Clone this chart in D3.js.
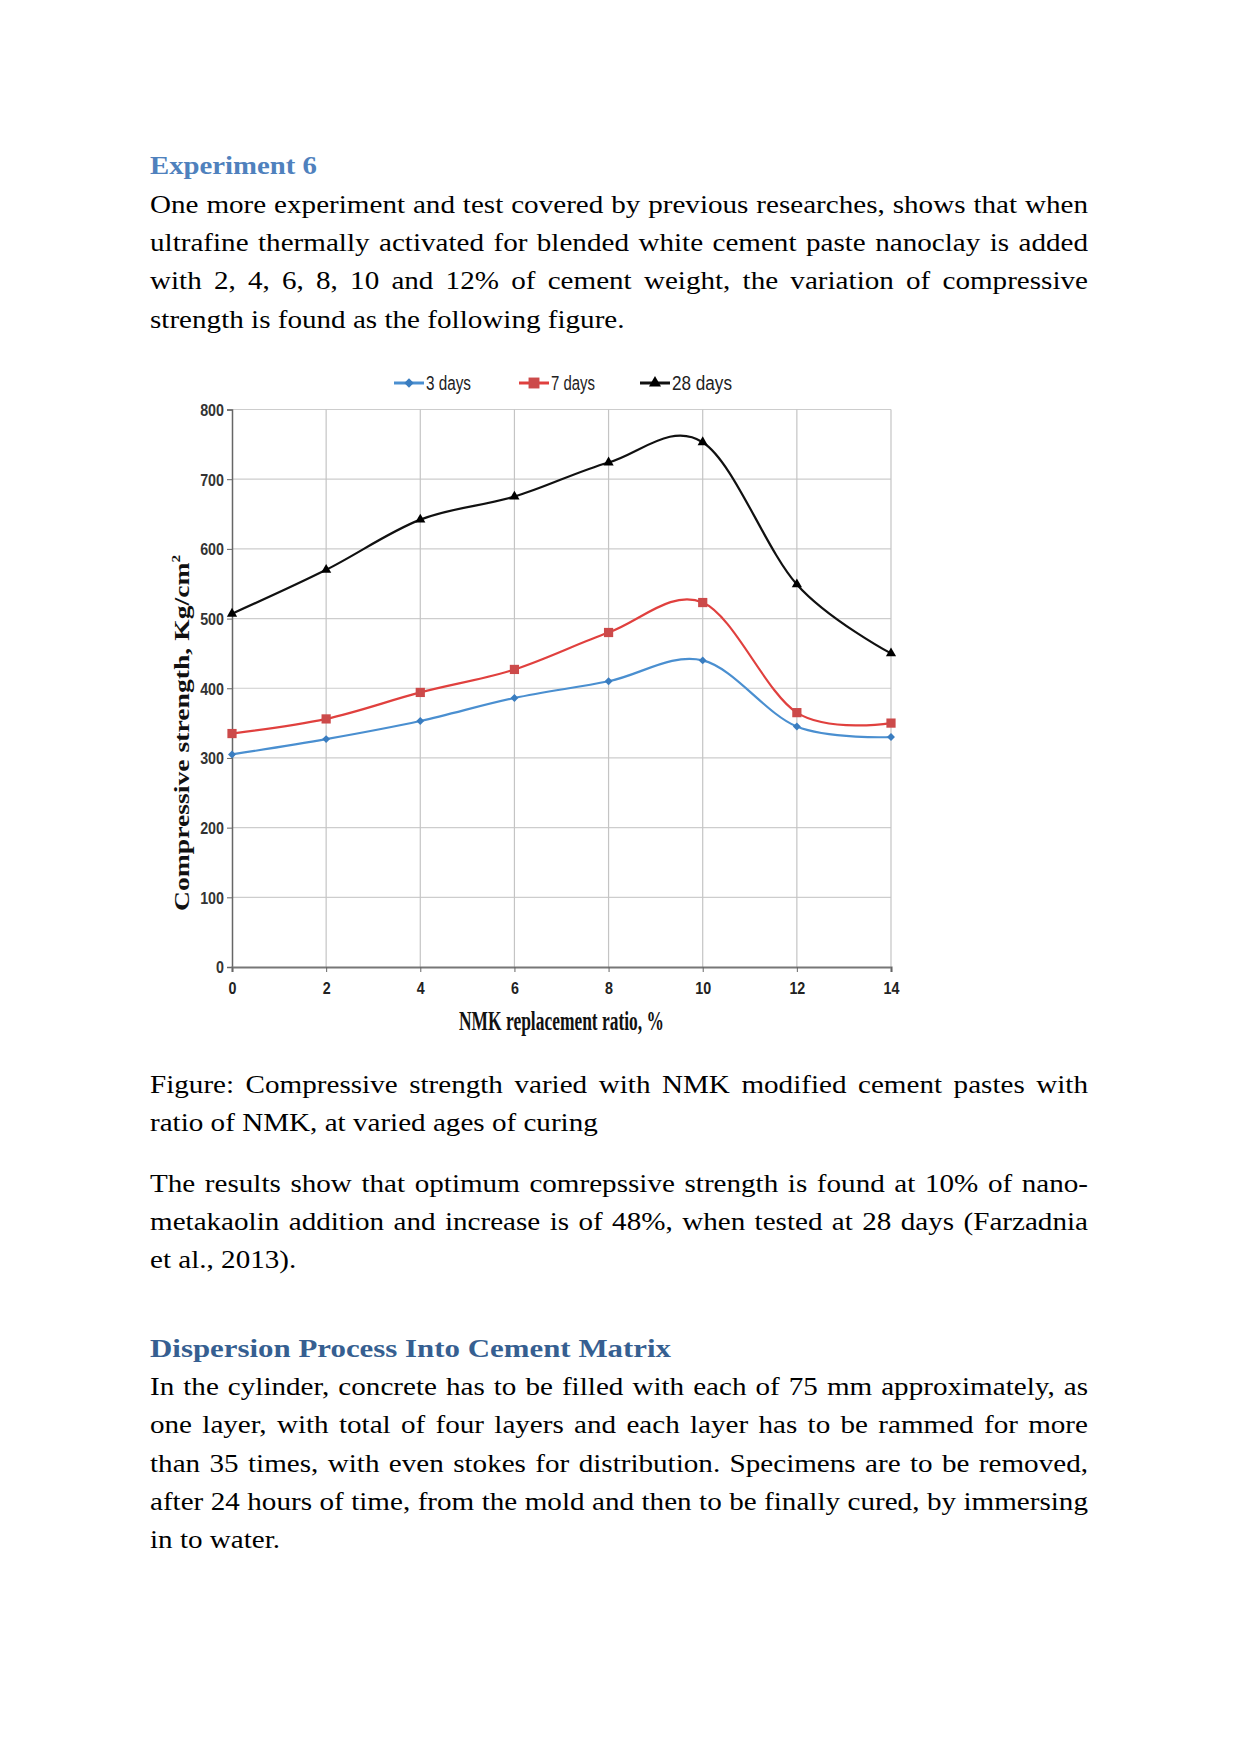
<!DOCTYPE html>
<html>
<head>
<meta charset="utf-8">
<script src="https://cdn.jsdelivr.net/npm/d3@7"></script>
<style>
  html, body { margin: 0; padding: 0; background: #fff; }
  svg { display: block; }
  .body { font-family: "Liberation Serif", "Times New Roman", serif; font-size: 26px; fill: #000; }
  .head { font-family: "Liberation Serif", "Times New Roman", serif; font-size: 26px; font-weight: bold; }
  .fig { font-family: "Liberation Sans Narrow", "Arial Narrow", "Liberation Sans", Arial, sans-serif; }
</style>
</head>
<body>
<script>
// ---------- chart data ----------
const ratios = [0, 2, 4, 6, 8, 10, 12, 14];
const days3  = [305, 327, 353, 386, 410, 440, 345, 330];
const days7  = [335, 356, 394, 427, 480, 523, 365, 350];
const days28 = [507, 570, 642, 675, 724, 753, 549, 450];
const seriesNames = ["3 days", "7 days", "28 days"];
const xTicks = [0, 2, 4, 6, 8, 10, 12, 14];
const yTicks = [0, 100, 200, 300, 400, 500, 600, 700, 800];
const xTitle = "NMK replacement ratio, %";
const yTitle = "Compressive strength, Kg/cm";

// ---------- page text ----------
const heading1 = "Experiment 6";
const para1 = [
  "One more experiment and test covered by previous researches, shows that when",
  "ultrafine thermally activated for blended white cement paste nanoclay is added",
  "with 2, 4, 6, 8, 10 and 12% of cement weight, the variation of compressive",
  "strength is found as the following figure."
];
const caption = [
  "Figure: Compressive strength varied with NMK modified cement pastes with",
  "ratio of NMK, at varied ages of curing"
];
const para2 = [
  "The results show that optimum comrepssive strength is found at 10% of nano-",
  "metakaolin addition and increase is of 48%, when tested at 28 days (Farzadnia",
  "et al., 2013)."
];
const heading2 = "Dispersion Process Into Cement Matrix";
const para3 = [
  "In the cylinder, concrete has to be filled with each of 75 mm approximately, as",
  "one layer, with total of four layers and each layer has to be rammed for more",
  "than 35 times, with even stokes for distribution. Specimens are to be removed,",
  "after 24 hours of time, from the mold and then to be finally cured, by immersing",
  "in to water."
];

const W = 1241, H = 1754;
const svg = d3.select("body").append("svg").attr("width", W).attr("height", H);
svg.append("rect").attr("width", W).attr("height", H).attr("fill", "#fff");

const textLeft = 150, textWidth = 938, sx = 1.12;

function drawLine(str, y, justify) {
  const grp = svg.append("g").attr("transform", `translate(${textLeft},${y}) scale(${sx},1)`);
  const t = grp.append("text").attr("class", "body").attr("x", 0).attr("y", 0);
  if (!justify) { t.text(str); return; }
  const words = str.split(" ");
  const spans = words.map(w => t.append("tspan").text(w));
  const widths = spans.map(s => s.node().getComputedTextLength());
  const sum = d3.sum(widths);
  const gap = (textWidth / sx - sum) / (words.length - 1);
  let x = 0;
  spans.forEach((s, i) => { s.attr("x", x); x += widths[i] + gap; });
}
function drawPara(lines, y0, step) {
  lines.forEach((l, i) => drawLine(l, y0 + i * step, i < lines.length - 1));
}

svg.append("text").attr("class", "head").attr("x", textLeft).attr("y", 174)
  .attr("fill", "#4f81bd").attr("textLength", 167).attr("lengthAdjust", "spacingAndGlyphs")
  .text(heading1);
drawPara(para1, 212.7, 38.3);
drawPara(caption, 1093, 38.4);
drawPara(para2, 1191.7, 38.3);
svg.append("text").attr("class", "head").attr("x", textLeft).attr("y", 1356.5)
  .attr("fill", "#365f91").attr("textLength", 521).attr("lengthAdjust", "spacingAndGlyphs")
  .text(heading2);
drawPara(para3, 1395, 38.3);

// ---------- chart ----------
const x = d3.scaleLinear().domain([0, 14]).range([232, 891]);
const y = d3.scaleLinear().domain([0, 800]).range([967, 409.5]);
const g = svg.append("g");

function narrow(sel, f) {
  sel.each(function () {
    const w = this.getComputedTextLength();
    d3.select(this).attr("textLength", w * f).attr("lengthAdjust", "spacingAndGlyphs");
  });
}

// gridlines
g.selectAll(".hg").data(yTicks.filter(d => d > 0)).join("line")
  .attr("x1", x(0)).attr("x2", x(14)).attr("y1", d => y(d)).attr("y2", d => y(d))
  .attr("stroke", "#cdcdcd").attr("stroke-width", 1.2);
g.selectAll(".vg").data(xTicks.filter(d => d > 0)).join("line")
  .attr("x1", d => x(d)).attr("x2", d => x(d)).attr("y1", y(0)).attr("y2", y(800))
  .attr("stroke", "#c4c4c4").attr("stroke-width", 1.2);

// axes
const yAxis = d3.axisLeft(y).tickValues(yTicks).tickSize(5).tickPadding(3);
const yg = g.append("g").attr("transform", `translate(${x(0)},0)`).call(yAxis);
yg.select(".domain").attr("stroke", "#666").attr("stroke-width", 1.5);
yg.selectAll(".tick line").attr("stroke", "#666");
yg.selectAll(".tick text").attr("class", "fig").attr("font-size", 17).attr("fill", "#333")
  .attr("font-weight", "bold").attr("dy", "0.35em");
narrow(yg.selectAll(".tick text"), 0.84);

const xAxis = d3.axisBottom(x).tickValues(xTicks).tickSize(5).tickPadding(6);
const xg = g.append("g").attr("transform", `translate(0,${y(0)})`).call(xAxis);
xg.select(".domain").attr("stroke", "#777").attr("stroke-width", 2.2);
xg.selectAll(".tick line").attr("stroke", "#666");
xg.selectAll(".tick text").attr("class", "fig").attr("font-size", 17).attr("fill", "#222")
  .attr("font-weight", "bold").attr("y", 27).attr("dy", 0);
narrow(xg.selectAll(".tick text"), 0.84);

// axis titles
svg.append("text").attr("x", 561.5).attr("y", 1030).attr("text-anchor", "middle")
  .attr("font-family", "'Liberation Serif', 'Times New Roman', serif").attr("font-weight", "bold")
  .attr("font-size", 27).attr("fill", "#111")
  .attr("textLength", 205).attr("lengthAdjust", "spacingAndGlyphs").text(xTitle);

const yt = svg.append("text").attr("transform", "translate(189,733) rotate(-90)")
  .attr("text-anchor", "middle")
  .attr("font-family", "'Liberation Serif', 'Times New Roman', serif").attr("font-weight", "bold")
  .attr("font-size", 22).attr("fill", "#111")
  .attr("textLength", 356).attr("lengthAdjust", "spacingAndGlyphs");
yt.append("tspan").text(yTitle);
yt.append("tspan").attr("font-size", 12).attr("dy", -9).text("2");

// series
const series = [
  { name: seriesNames[0], values: days3,  line: "#4a8fd0", mark: "#3a7dc0", sym: d3.symbolDiamond2, size: 40 },
  { name: seriesNames[1], values: days7,  line: "#e0403e", mark: "#cc4a4a", sym: d3.symbolSquare, size: 85 },
  { name: seriesNames[2], values: days28, line: "#111",    mark: "#000",    sym: d3.symbolTriangle, size: 45 }
];
const lineGen = d3.line().x((d, i) => x(ratios[i])).y(d => y(d)).curve(d3.curveCatmullRom.alpha(0));
series.forEach(s => {
  g.append("path").attr("d", lineGen(s.values)).attr("fill", "none")
    .attr("stroke", s.line).attr("stroke-width", 2.2);
  g.selectAll(null).data(s.values).join("path")
    .attr("transform", (d, i) => `translate(${x(ratios[i])},${y(d)})`)
    .attr("d", d3.symbol().type(s.sym).size(s.size))
    .attr("fill", s.mark);
});

// legend
const legendX = [394, 519, 640];
const legendTextW = [45, 44, 60];
series.forEach((s, i) => {
  const lg = svg.append("g");
  lg.append("line").attr("x1", legendX[i]).attr("x2", legendX[i] + 30)
    .attr("y1", 383).attr("y2", 383).attr("stroke", s.line).attr("stroke-width", 3);
  lg.append("path").attr("transform", `translate(${legendX[i] + 15},383)`)
    .attr("d", d3.symbol().type(s.sym).size(s.size * 1.4)).attr("fill", s.mark);
  lg.append("text").attr("class", "fig").attr("x", legendX[i] + 32).attr("y", 390)
    .attr("font-size", 20).attr("fill", "#222")
    .attr("textLength", legendTextW[i]).attr("lengthAdjust", "spacingAndGlyphs")
    .text(s.name);
});
</script>
</body>
</html>
